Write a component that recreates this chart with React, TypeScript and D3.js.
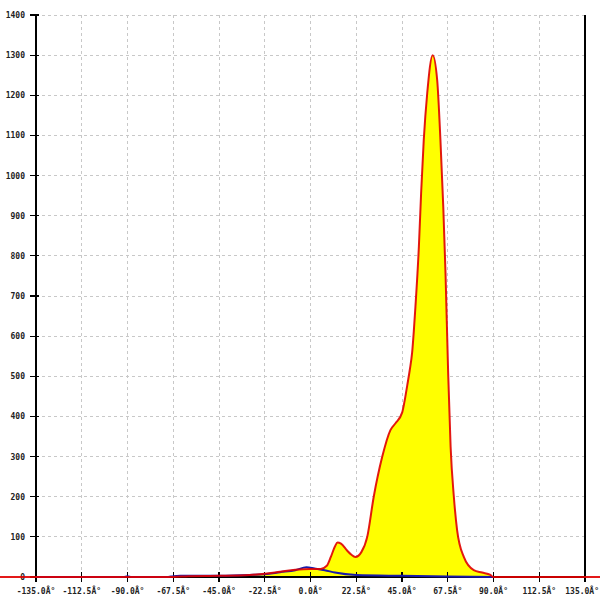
import React from "react";
import * as d3 from "d3";

const xTicks = [-135, -112.5, -90, -67.5, -45, -22.5, 0, 22.5, 45, 67.5, 90, 112.5, 135];
const yTicks = [0, 100, 200, 300, 400, 500, 600, 700, 800, 900, 1000, 1100, 1200, 1300, 1400];

const redAngles = [-180, -135, -67.5, -60, -45, -30, -22.5, -15, -7.5, 0, 5, 8, 10, 12, 13.3, 15, 18, 20, 22.1, 25, 27.9, 31.1, 35.3, 39.3, 41.8, 45.1, 46.4, 47.6, 48.8, 50, 50.8, 51.6, 53.3, 54.4, 55.7, 57.4, 60.1, 62.3, 63.9, 65.3, 66.4, 67.7, 68.9, 70.5, 72.1, 75.4, 80.3, 84.4, 88.5, 90, 180];
const redValues = [0, 0, 0, 2, 3, 5, 8, 13, 18, 20, 20, 28, 50, 76, 86, 83, 66, 56, 50, 62, 100, 200, 300, 366, 383, 410, 442, 478, 515, 560, 612, 673, 823, 956, 1089, 1205, 1300, 1238, 1089, 922, 757, 508, 325, 200, 117, 50, 17, 11, 5, 0, 0];

const blueAngles = [-135, -92, -90, -88, -70, -67.5, -64, -45, -30, -22.5, -15, -7.5, -2, 2, 7, 12, 22.5, 45, 67.5, 90];
const blueValues = [0, 0, 2, 0, 0, 2, 3, 3, 5, 7, 12, 17, 24, 21, 17, 11, 5, 3, 1.5, 0];

const fmtX = (v: number) => `${v.toFixed(1)}Â°`;

export default function App() {
  const W = 600, H = 600;
  const x = d3.scaleLinear().domain([-135, 135]).range([36, 585]);
  const y = d3.scaleLinear().domain([0, 1400]).range([577, 15]);

  const red = redAngles.map((a, i) => [a, redValues[i]] as [number, number]);
  const blue = blueAngles.map((a, i) => [a, blueValues[i]] as [number, number]);

  const curve = d3.curveMonotoneX;
  const line = d3.line<[number, number]>().x(d => x(d[0])).y(d => y(d[1])).curve(curve);
  const area = d3.area<[number, number]>().x(d => x(d[0])).y0(y(0)).y1(d => y(d[1])).curve(curve);

  const font = "'DejaVu Sans Mono', monospace";

  return (
    <svg width={W} height={H} style={{ position: "absolute", left: 0, top: 0, background: "#fff" }}>
      {yTicks.filter(t => t > 0).map(t => (
        <line key={"gy" + t} x1={36} x2={585} y1={y(t)} y2={y(t)} stroke="#c8c8c8" strokeDasharray="3,3" strokeWidth={1} shapeRendering="crispEdges" />
      ))}
      {xTicks.filter(t => t > -135 && t < 135).map(t => (
        <line key={"gx" + t} x1={x(t)} x2={x(t)} y1={15} y2={577} stroke="#c8c8c8" strokeDasharray="3,3" strokeWidth={1} shapeRendering="crispEdges" />
      ))}
      <path d={area(red) || ""} fill="#ffff00" stroke="none" />
      <line x1={36} x2={36} y1={15} y2={580} stroke="#000" strokeWidth={1.5} shapeRendering="crispEdges" />
      <line x1={585} x2={585} y1={15} y2={580} stroke="#000" strokeWidth={1.5} shapeRendering="crispEdges" />
      <line x1={36} x2={585} y1={577} y2={577} stroke="#000" strokeWidth={1.5} shapeRendering="crispEdges" />
      {yTicks.map(t => (
        <g key={"ty" + t}>
          <line x1={30} x2={39} y1={y(t)} y2={y(t)} stroke="#000" strokeWidth={1.2} shapeRendering="crispEdges" />
          <text x={25} y={y(t) + 3} textAnchor="end" fontFamily={font} fontSize={8} fontWeight="bold" fill="#222">{t}</text>
        </g>
      ))}
      {xTicks.map(t => (
        <g key={"tx" + t}>
          <line x1={x(t)} x2={x(t)} y1={572} y2={582} stroke="#000" strokeWidth={1.2} shapeRendering="crispEdges" />
          <text x={t === 135 ? 599 : x(t)} y={594} textAnchor={t === 135 ? "end" : "middle"} fontFamily={font} fontSize={8} fontWeight="bold" fill="#222">{fmtX(t)}</text>
        </g>
      ))}
      <path d={line(blue) || ""} fill="none" stroke="#1a1aa8" strokeWidth={2} />
      <path d={line(red) || ""} fill="none" stroke="#e00000" strokeWidth={2} strokeOpacity={0.9} />
    </svg>
  );
}
